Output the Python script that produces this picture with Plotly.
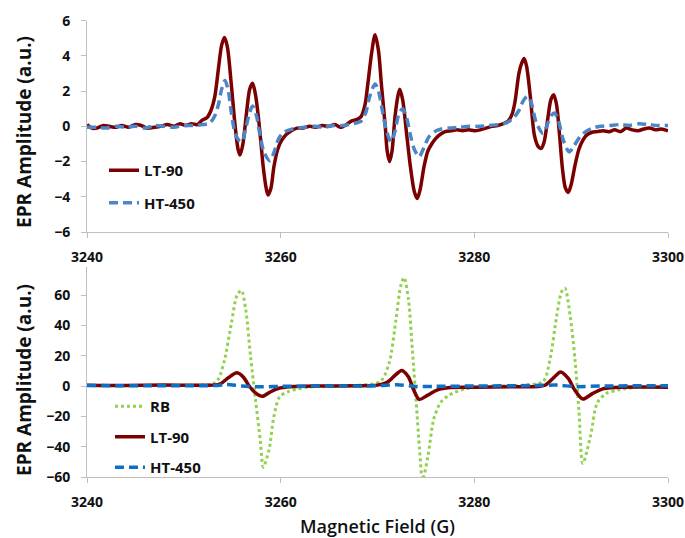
import plotly.graph_objects as go

# ---------------- data ----------------
top_lt90_x = [3240.0, 3240.5, 3241.0, 3241.7, 3242.3, 3243.0, 3243.6, 3244.3, 3245.0, 3245.6,
              3246.2, 3247.0, 3247.6, 3248.3, 3249.0, 3249.6, 3250.2, 3250.8, 3251.4, 3251.9,
              3252.4, 3252.8, 3253.2, 3253.6, 3253.9, 3254.2, 3254.5, 3254.9, 3255.3, 3255.6,
              3255.8, 3256.1, 3256.5, 3256.8, 3257.1, 3257.4, 3257.8, 3258.2, 3258.5, 3258.7,
              3259.0, 3259.3, 3259.7, 3260.1, 3260.6, 3261.1, 3261.7, 3262.3, 3263.0, 3263.6,
              3264.3, 3265.0, 3265.6, 3266.2, 3266.8, 3267.3, 3267.9, 3268.3, 3268.7, 3269.0,
              3269.4, 3269.75, 3270.1, 3270.4, 3270.8, 3271.0, 3271.25, 3271.5, 3271.8, 3272.1,
              3272.3, 3272.6, 3273.0, 3273.4, 3273.8, 3274.1, 3274.4, 3274.8, 3275.2, 3275.6,
              3276.0, 3276.5, 3277.0, 3277.6, 3278.2, 3278.8, 3279.4, 3280.0, 3280.6, 3281.2,
              3281.8, 3282.4, 3283.0, 3283.5, 3283.9, 3284.2, 3284.6, 3284.9, 3285.15, 3285.4,
              3285.8, 3286.2, 3286.6, 3286.9, 3287.2, 3287.6, 3287.9, 3288.2, 3288.5, 3288.8,
              3289.1, 3289.4, 3289.7, 3290.0, 3290.4, 3290.8, 3291.2, 3291.6, 3292.1, 3292.7,
              3293.3, 3293.9, 3294.5, 3295.1, 3295.7, 3296.3, 3296.9, 3297.5, 3298.1, 3298.7,
              3299.3, 3300.0]
top_lt90_y = [0.1, -0.1, -0.1, 0.05, 0.0, -0.05, 0.05, -0.05, 0.1, 0.05,
              -0.1, -0.05, 0.0, 0.1, 0.0, 0.15, 0.05, 0.15, 0.1, 0.35,
              0.5, 0.9, 1.7, 3.4, 4.6, 5.05, 4.5, 2.4, 0.0, -1.3,
              -1.63, -1.0, 0.9, 2.1, 2.45, 1.8, 0.0, -2.3, -3.5, -3.9,
              -3.5, -2.3, -1.3, -0.8, -0.45, -0.25, -0.1, -0.1, 0.0, -0.05,
              0.05, 0.0, 0.1, -0.05, 0.1, 0.3, 0.4, 0.55, 1.2, 2.4,
              4.2, 5.2, 4.3, 2.4, 0.0, -1.4, -2.0, -1.4, 0.5, 1.7,
              2.1, 1.5, -0.4, -2.3, -3.7, -4.1, -3.6, -2.3, -1.4, -1.0,
              -0.7, -0.45, -0.3, -0.25, -0.2, -0.25, -0.2, -0.25, -0.2, -0.1,
              0.0, 0.05, 0.15, 0.3, 0.7, 1.4, 3.0, 3.6, 3.85, 3.4,
              1.6, -0.5, -1.15, -1.25, -0.9, 0.5, 1.5, 1.8, 1.2, -0.5,
              -2.4, -3.5, -3.75, -3.3, -2.2, -1.3, -0.8, -0.5, -0.35, -0.3,
              -0.25, -0.3, -0.2, -0.3, -0.1, -0.2, -0.25, -0.15, -0.1, -0.2,
              -0.15, -0.25]

top_ht450_x = [3240.0, 3241.0, 3242.0, 3243.0, 3244.0, 3245.0, 3246.0, 3247.0, 3248.0, 3249.0,
               3250.0, 3251.0, 3252.0, 3252.7, 3253.2, 3253.6, 3253.9, 3254.25, 3254.6, 3254.9,
               3255.3, 3255.7, 3256.0, 3256.4, 3256.8, 3257.1, 3257.5, 3257.9, 3258.3, 3258.9,
               3259.3, 3259.8, 3260.3, 3260.9, 3261.6, 3262.5, 3263.5, 3264.5, 3265.5, 3266.5,
               3267.5, 3268.3, 3268.8, 3269.2, 3269.75, 3270.1, 3270.5, 3270.9, 3271.4, 3271.8,
               3272.2, 3272.6, 3273.0, 3273.4, 3273.8, 3274.3, 3274.8, 3275.3, 3275.9, 3276.6,
               3277.5, 3278.5, 3279.5, 3280.5, 3281.5, 3282.5, 3283.3, 3284.0, 3284.6, 3285.1,
               3285.5, 3285.9, 3286.4, 3287.1, 3287.6, 3288.0, 3288.3, 3288.7, 3289.2, 3289.8,
               3290.3, 3290.9, 3291.5, 3292.2, 3293.0, 3294.0, 3295.0, 3296.0, 3297.0, 3298.0,
               3299.0, 3300.0]
top_ht450_y = [-0.05, -0.05, -0.1, 0.0, -0.05, 0.0, -0.1, 0.05, 0.0, -0.05,
               0.05, 0.05, 0.1, 0.2, 0.6, 1.3, 2.1, 2.6, 2.0, 0.8,
               -0.4, -0.8, -0.87, -0.1, 0.8, 1.15, 0.6, -0.6, -1.5, -1.95,
               -1.5, -0.7, -0.35, -0.2, -0.1, -0.05, 0.0, -0.05, 0.05, 0.05,
               0.15, 0.3, 0.8, 1.7, 2.4, 2.0, 0.9, -0.2, -0.87, -0.3,
               0.7, 1.0, 0.5, -0.5, -1.3, -1.72, -1.2, -0.6, -0.3, -0.15,
               -0.1, -0.05, 0.0, 0.0, 0.05, 0.1, 0.2, 0.45, 0.9, 1.5,
               1.7, 1.3, 0.2, -0.4, 0.2, 0.65, 0.75, 0.3, -0.8, -1.45,
               -1.1, -0.6, -0.3, -0.1, 0.0, 0.05, 0.1, 0.05, 0.15, 0.1,
               0.05, 0.05]

bot_rb_x = [3240, 3245, 3250, 3252.5, 3253.2, 3253.6, 3254.2, 3254.9, 3255.5, 3255.95,
            3256.4, 3256.9, 3257.4, 3257.9, 3258.2, 3258.8, 3259.3, 3259.9, 3260.8, 3262.6,
            3265, 3268, 3270.3, 3271.2, 3271.9, 3272.4, 3272.75, 3273.2, 3273.6, 3274.0,
            3274.35, 3274.65, 3275.2, 3275.8, 3276.5, 3277.4, 3279, 3282, 3285, 3287.1,
            3287.8, 3288.5, 3289.0, 3289.35, 3289.9, 3290.4, 3290.8, 3291.2, 3292.0, 3292.7,
            3293.6, 3294.8, 3296.6, 3300]
bot_rb_y = [0.3, 0.3, 0.5, 0.8, 2, 5, 17, 41, 60, 63,
            50, 19, -9, -36, -53.5, -42, -20, -7, -3.7, -1,
            0, 0.5, 3, 15, 43.5, 66, 71.5, 57, 24, -11,
            -42, -62, -46.6, -22, -11, -6, -2, 0, 0.5, 3,
            17, 46, 62, 64.6, 46, 17, -16, -51, -33, -11,
            -5, -2.6, -1, 0]

bot_lt90_x = [3240, 3244, 3248, 3251, 3253, 3253.8, 3254.6, 3255.5, 3256.2, 3256.8,
              3257.4, 3258.1, 3258.9, 3259.8, 3261, 3264, 3268, 3270, 3271, 3271.8,
              3272.5, 3273.2, 3273.7, 3274.3, 3275.2, 3276.2, 3277.5, 3280, 3284, 3286.5,
              3287.3, 3288.2, 3288.9, 3289.7, 3290.4, 3291.2, 3292.2, 3293.2, 3294.5, 3297,
              3300]
bot_lt90_y = [0.5, 0.3, 0.6, 0.5, 0.6, 1.5, 5.5, 8.7, 5.5, -0.5,
              -4.5, -6.8, -4.0, -1.5, -0.5, 0, 0.2, 0.6, 2.5, 7,
              10.3, 6, -2, -8.8, -6, -2.5, -1, -0.8, -0.5, -0.4,
              0.5, 5.5, 9.3, 5, -3, -8.6, -5, -2, -1, -0.7,
              -0.8]

bot_ht450_x = [3240, 3250, 3253.5, 3254.5, 3256, 3258, 3260, 3265, 3270, 3272,
               3274, 3276, 3280, 3286, 3288.5, 3290.5, 3293, 3300]
bot_ht450_y = [0.3, 0.2, 0.4, 1.0, 0.0, -0.5, -0.2, 0.0, 0.2, 0.8,
               -0.3, -0.2, 0.0, 0.3, 0.6, -0.4, 0.0, 0.2]

x_ticks = [3240, 3260, 3280, 3300]
top_y_ticks = [-6, -4, -2, 0, 2, 4, 6]
bot_y_ticks = [-60, -40, -20, 0, 20, 40, 60]

# ---------------- styling ----------------
W, H = 685, 538
FONT = "Open Sans"
DARKRED = "#7B0000"
LBLUE = "#4A86C8"
DBLUE = "#0E6FC4"
GREEN = "#92D050"
AXC = "#BFBFBF"
TXT = "#111111"

def px_x(p):
    return p / W

def px_y(p):
    return 1 - p / H

fig = go.Figure()

fig.add_trace(go.Scatter(x=top_lt90_x, y=top_lt90_y, name="LT-90", mode="lines",
                         line=dict(color=DARKRED, width=3.5, shape="spline", smoothing=0.8),
                         xaxis="x", yaxis="y", legend="legend", legendgroup="a"))
fig.add_trace(go.Scatter(x=top_ht450_x, y=top_ht450_y, name="HT-450", mode="lines",
                         line=dict(color=LBLUE, width=3.5, dash="9px,5px", shape="spline", smoothing=0.8),
                         xaxis="x", yaxis="y", legend="legend", legendgroup="b"))

fig.add_trace(go.Scatter(x=bot_rb_x, y=bot_rb_y, name="RB", mode="lines",
                         line=dict(color=GREEN, width=3, dash="3px,3px", shape="spline", smoothing=0.8),
                         xaxis="x2", yaxis="y2", legend="legend2", legendgroup="c"))
fig.add_trace(go.Scatter(x=bot_lt90_x, y=bot_lt90_y, name="LT-90", mode="lines",
                         line=dict(color=DARKRED, width=3.5, shape="spline", smoothing=0.8),
                         xaxis="x2", yaxis="y2", legend="legend2", legendgroup="d"))
fig.add_trace(go.Scatter(x=bot_ht450_x, y=bot_ht450_y, name="HT-450", mode="lines",
                         line=dict(color=DBLUE, width=3.5, dash="9px,5px", shape="spline", smoothing=0.8),
                         xaxis="x2", yaxis="y2", legend="legend2", legendgroup="e"))

tickfont = dict(family=FONT, size=14, color=TXT, weight="bold")
axcommon = dict(showgrid=False, zeroline=False, showline=True, linecolor=AXC, linewidth=1,
                ticks="outside", ticklen=5, tickcolor=AXC, tickfont=tickfont, automargin=False)

xdom = [px_x(87), px_x(668)]
fig.update_layout(
    width=W, height=H,
    margin=dict(l=0, r=0, t=0, b=0),
    paper_bgcolor="white", plot_bgcolor="white",
    xaxis=dict(domain=xdom, range=[3240, 3300], tickvals=x_ticks, anchor="y",
               ticklabelstandoff=7, **axcommon),
    yaxis=dict(domain=[px_y(232), px_y(20.7)], range=[-6, 6], tickvals=top_y_ticks,
               anchor="x", ticklabelstandoff=8, **axcommon),
    xaxis2=dict(domain=xdom, range=[3240, 3300], tickvals=x_ticks, anchor="y2",
                ticklabelstandoff=7, **axcommon),
    yaxis2=dict(domain=[px_y(477), px_y(267)], range=[-60, 78.5], tickvals=bot_y_ticks,
                anchor="x2", ticklabelstandoff=8, **axcommon),
    legend=dict(x=px_x(104), y=px_y(154), xanchor="left", yanchor="top",
                bgcolor="rgba(0,0,0,0)", traceorder="grouped", tracegroupgap=10,
                font=dict(family=FONT, size=15, color=TXT, weight="bold")),
    legend2=dict(x=px_x(110), y=px_y(390), xanchor="left", yanchor="top",
                 bgcolor="rgba(0,0,0,0)", traceorder="grouped", tracegroupgap=8,
                 font=dict(family=FONT, size=15, color=TXT, weight="bold")),
    annotations=[
        dict(text="EPR Amplitude (a.u.)", x=px_x(24), y=px_y(132), xref="paper", yref="paper",
             textangle=-90, showarrow=False, xanchor="center", yanchor="middle",
             font=dict(family=FONT, size=19, color=TXT, weight="bold")),
        dict(text="EPR Amplitude (a.u.)", x=px_x(24), y=px_y(380), xref="paper", yref="paper",
             textangle=-90, showarrow=False, xanchor="center", yanchor="middle",
             font=dict(family=FONT, size=19, color=TXT, weight="bold")),
        dict(text="Magnetic Field (G)", x=px_x(377), y=px_y(526), xref="paper", yref="paper",
             showarrow=False, xanchor="center", yanchor="middle",
             font=dict(family=FONT, size=18, color=TXT, weight=600)),
    ],
)

fig.write_html("out.html")
